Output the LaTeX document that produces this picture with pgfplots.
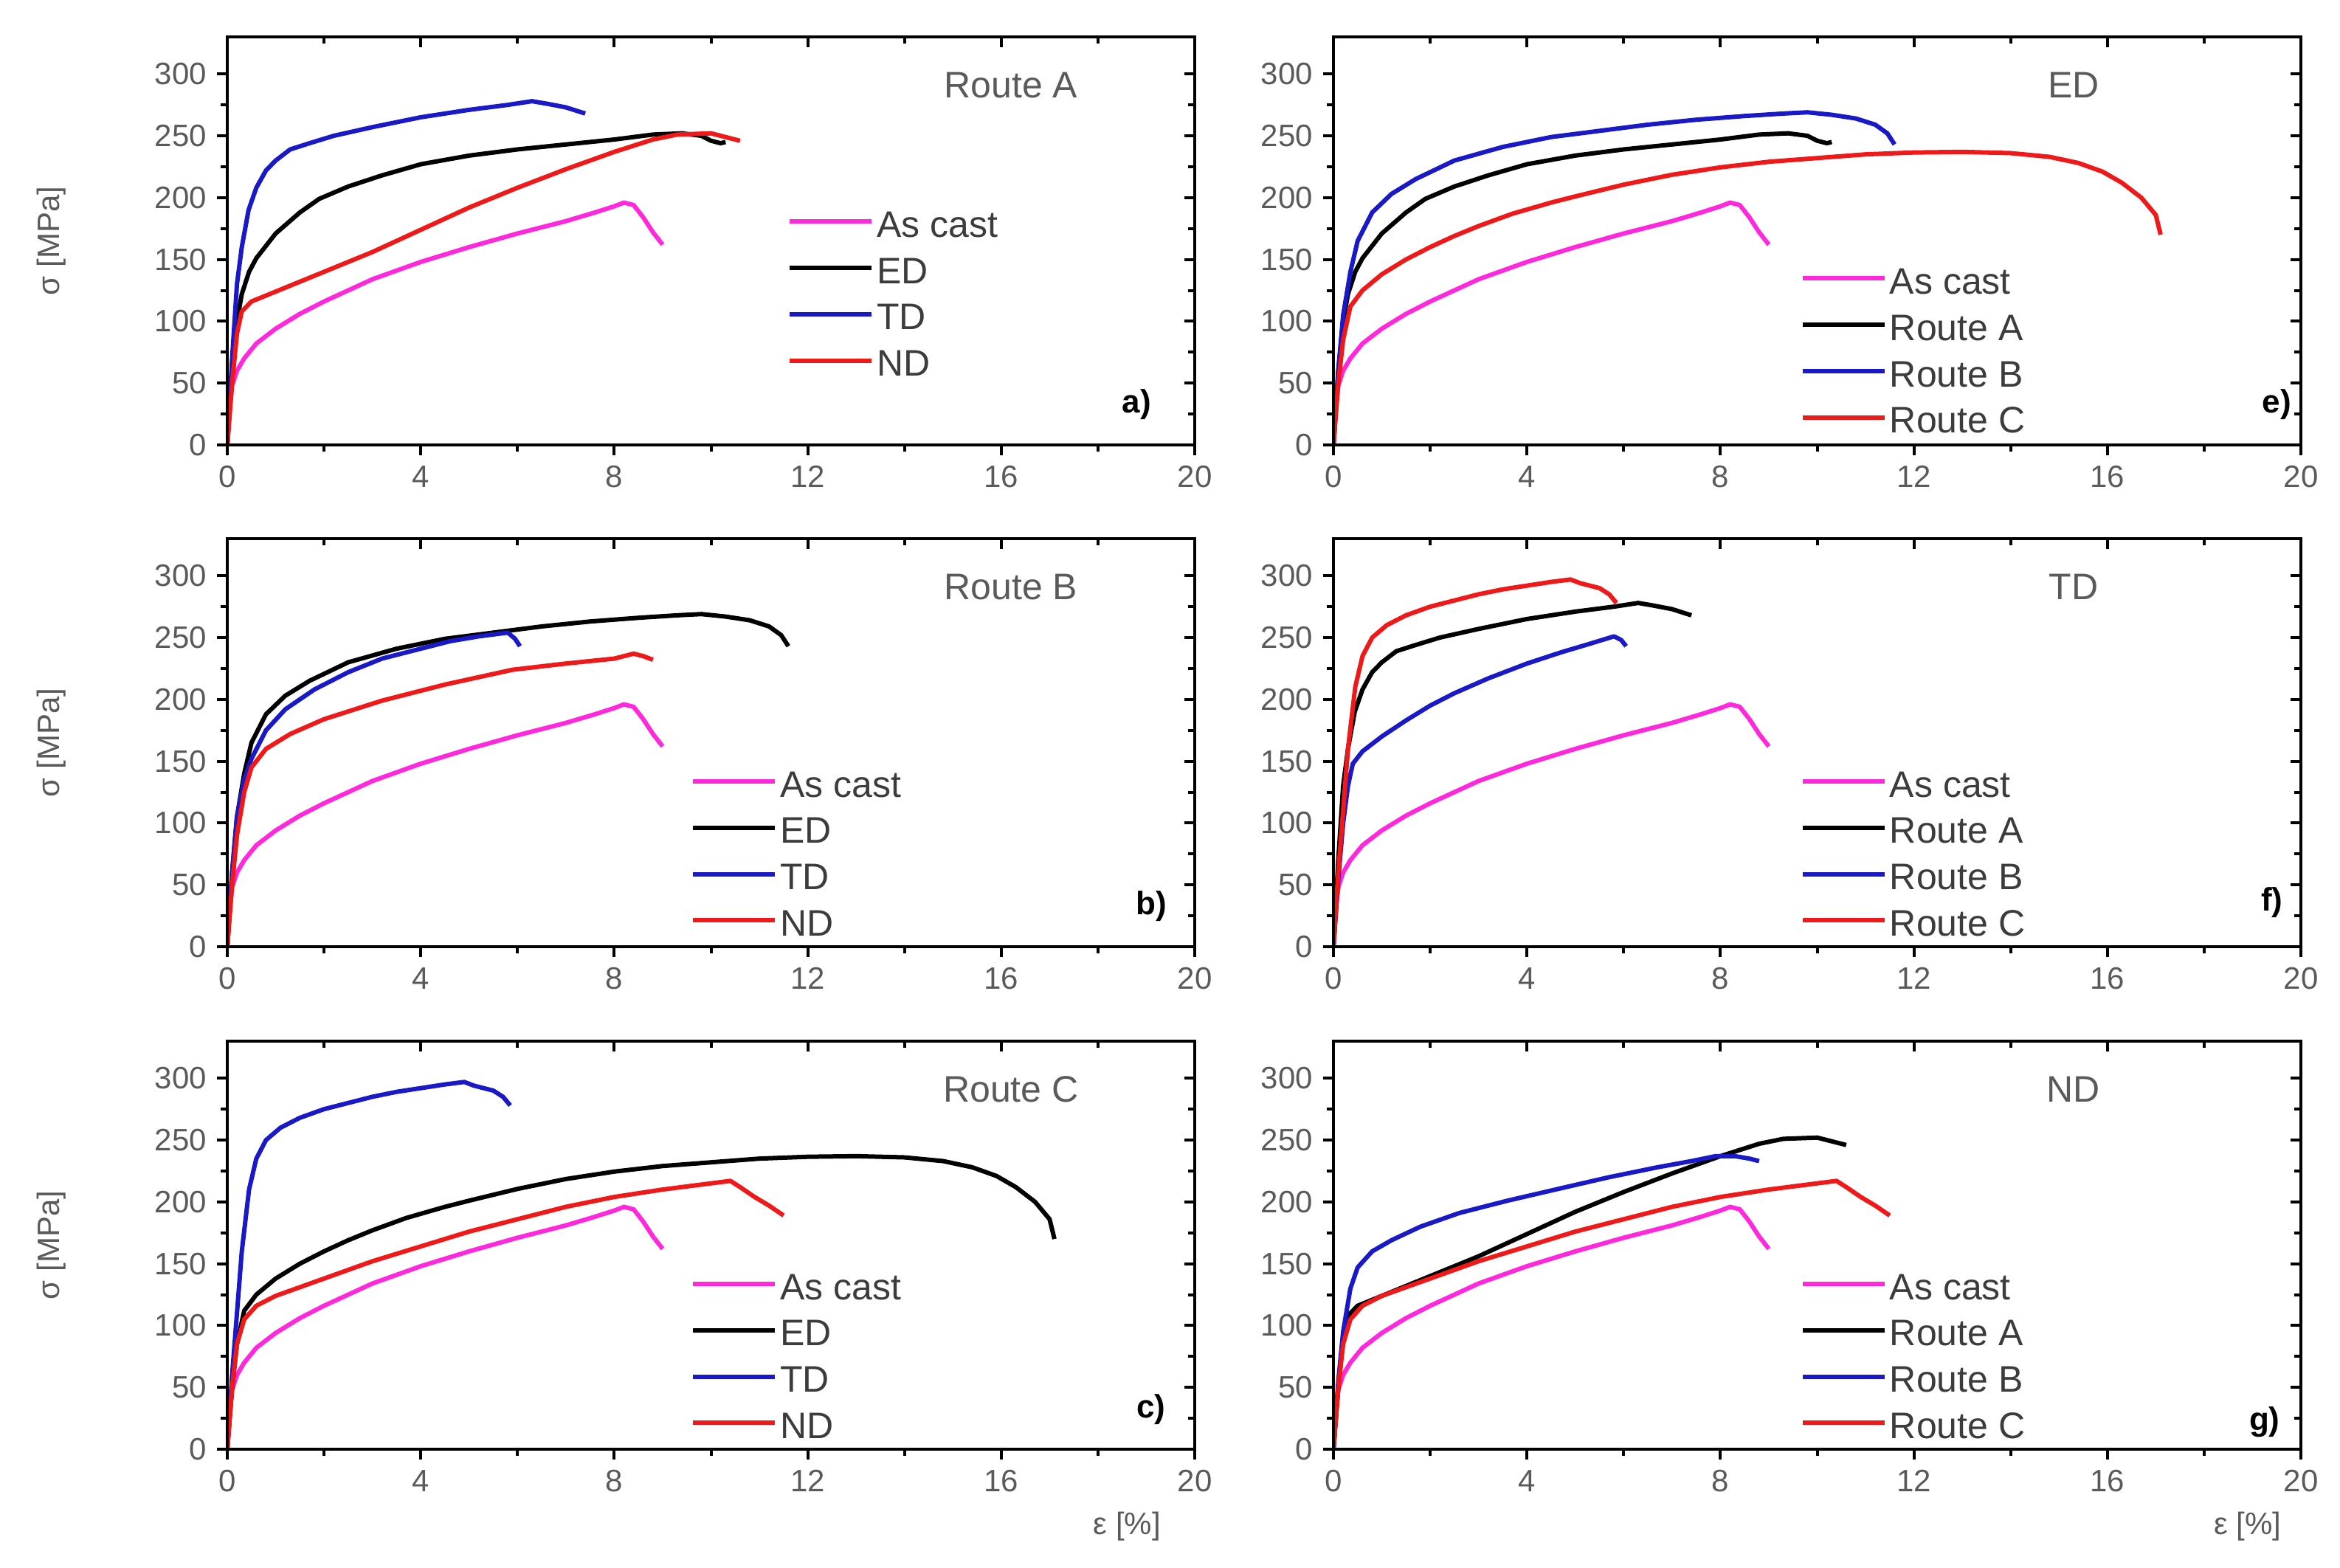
\documentclass[border=0pt]{standalone}
\usepackage{fontspec}
\setmainfont{Liberation Sans}
\usepackage{pgfplots}
\usepackage{pgfplotstable}
\pgfplotsset{compat=1.18}
\definecolor{cMag}{RGB}{255,40,220}
\definecolor{cBlue}{RGB}{25,25,200}
\definecolor{cRed}{RGB}{240,25,25}
\definecolor{cGray}{RGB}{90,90,90}
\definecolor{cLeg}{RGB}{60,60,60}

\pgfplotstableread{
x y
0 0
0.05 30
0.1 48
0.2 60
0.35 70
0.6 82
1 94
1.5 106
2 116
2.5 125
3 134
4 148
5 160
6 171
7 181
7.6 188
8.0 193
8.2 196
8.4 194
8.6 184
8.8 172
9.0 162
}\asCast

\pgfplotstableread{
x y
0 0
0.1 60
0.2 100
0.3 122
0.45 140
0.6 151
0.84 163
1 171
1.5 188
1.9 199
2.5 209
3.2 218
4 227
5 234
6 239
7 243
8 247
8.8 251
9.4 252
9.8 250
10.0 246
10.2 244
10.3 245
}\RAed

\pgfplotstableread{
x y
0 0
0.1 70
0.2 130
0.3 160
0.44 190
0.6 208
0.8 222
1 230
1.3 239
1.7 244
2.2 250
3 257
4 265
5 271
5.8 275
6.3 278
6.6 276
7 273
7.4 268
}\RAtd

\pgfplotstableread{
x y
0 0
0.1 50
0.2 90
0.3 108
0.5 116
1 124
1.5 132
2 140
3 156
4 174
5 192
6 208
7 223
8 237
8.8 247
9.3 251
10.0 252
10.3 249
10.6 246
}\RAnd

\pgfplotstableread{
x y
0 0
0.1 60
0.2 105
0.35 140
0.5 165
0.8 188
1.2 203
1.7 215
2.5 230
3.5 241
4.5 249
5.5 254
6.5 259
7.5 263
8.5 266
9.3 268
9.8 269
10.3 267
10.8 264
11.2 259
11.45 252
11.6 243
}\RBed

\pgfplotstableread{
x y
0 0
0.1 60
0.2 105
0.35 135
0.5 152
0.8 175
1.2 192
1.8 208
2.5 222
3.2 233
4 241
4.6 247
5.2 251
5.8 254
5.95 249
6.05 243
}\RBtdb

\pgfplotstableread{
x y
0 0
0.1 55
0.2 100
0.3 130
0.4 148
0.6 158
1 170
1.5 183
2 195
2.5 205
3.2 217
4 229
4.7 238
5.3 245
5.8 251
5.95 248
6.05 243
}\RBtdf

\pgfplotstableread{
x y
0 0
0.1 50
0.2 90
0.35 125
0.5 145
0.8 160
1.3 172
2 184
3.2 199
4.5 212
5.9 224
7 229
8 233
8.4 237
8.6 235
8.8 232
}\RBndb

\pgfplotstableread{
x y
0 0
0.1 55
0.2 95
0.35 130
0.5 147
0.8 160
1.2 169
1.8 180
2.6 191
3.6 201
4.7 211
5.7 220
6.7 228
7.4 233
7.9 237
8.3 237
8.6 235
8.8 233
}\RBndg

\pgfplotstableread{
x y
0 0
0.1 50
0.2 85
0.35 112
0.6 125
1 138
1.5 150
2 160
2.5 169
3 177
3.7 187
4.5 196
5 201
6 210.5
7 218.5
8 224.5
9 229
10 232
11 235
12 236.5
13 237
14 236
14.8 233
15.4 228
15.9 221
16.3 212
16.7 200
17.0 186
17.1 170
}\RCed

\pgfplotstableread{
x y
0 0
0.1 60
0.2 110
0.3 160
0.45 210
0.6 235
0.8 250
1.1 260
1.5 268
2 275
2.5 280
3 285
3.5 289
4 292
4.5 295
4.9 297
5.1 294
5.3 292
5.5 290
5.7 285
5.85 278
}\RCtd

\pgfplotstableread{
x y
0 0
0.1 50
0.2 85
0.35 105
0.6 116
1 124
2 138
3 152
4 164
5 176
6 186
7 196
8 204
9 210
10 215
10.4 217
10.6 212
10.9 204
11.2 197
11.5 189
}\RCnd

\tikzset{
  ttl/.style={font=\fontsize{12.5}{14}\selectfont, text=cGray},
  lett/.style={font=\fontsize{11}{13}\selectfont\bfseries},
}
\pgfplotsset{
  base/.style={
    width=327.75pt, height=138.25pt, scale only axis,
    xmin=0, xmax=20, ymin=0, ymax=330,
    xtick={0,4,...,20}, ytick={0,50,...,300},
    minor x tick num=1, minor y tick num=1,
    major tick length=3.5pt, minor tick length=2.3pt,
    axis line style={line width=1.2pt},
    every tick/.style={black, line width=1pt},
  },
  panel/.style={
    base,
    tick align=outside, xtick pos=bottom, ytick pos=left,
    ticklabel style={font=\fontsize{10.5}{12}\selectfont, text=cGray},
    /pgf/number format/assume math mode=true,
    label style={font=\fontsize{10.5}{12}\selectfont, text=cGray},
    legend cell align=left,
    legend style={draw=none, fill=none, anchor=north west,
      font=\fontsize{12.5}{14}\selectfont, text=cLeg,
      inner sep=0pt, row sep=4.2pt, column sep=1pt,
      nodes={inner sep=0pt, text height=9pt, text depth=2.5pt}},
    legend image code/.code={\draw[##1] (0pt,2.05pt) -- (27.8pt,2.05pt);},
    every axis plot/.append style={line width=1.5pt, line join=round},
  },
  mirror/.style={
    base,
    tick align=inside, xtick pos=top, ytick pos=right,
    xticklabels={}, yticklabels={},
  },
}

\begin{document}
\begin{tikzpicture}
\useasboundingbox (0,0) rectangle (792.75pt,531pt);

% ---------- a) ----------
\begin{axis}[panel, at={(77pt,518.5pt)}, anchor=north west,
  ylabel={σ [MPa]}, ylabel style={at={(axis description cs:-0.182,0.5)}, anchor=center},
  legend style={at={(axis cs:11.57,190)}}]
\addplot[cMag] table {\asCast}; \addlegendentry{As cast}
\addplot[black] table {\RAed}; \addlegendentry{ED}
\addplot[cBlue] table {\RAtd}; \addlegendentry{TD}
\addplot[cRed] table {\RAnd}; \addlegendentry{ND}
\node[ttl] at (axis cs:16.2,291) {Route A};
\node[lett] at (axis cs:18.8,33) {a)};
\end{axis}
\begin{axis}[mirror, at={(77pt,518.5pt)}, anchor=north west]
\end{axis}

% ---------- b) ----------
\begin{axis}[panel, at={(77pt,348.5pt)}, anchor=north west,
  ylabel={σ [MPa]}, ylabel style={at={(axis description cs:-0.182,0.5)}, anchor=center},
  legend style={at={(axis cs:9.57,143)}}]
\addplot[cMag] table {\asCast}; \addlegendentry{As cast}
\addplot[black] table {\RBed}; \addlegendentry{ED}
\addplot[cBlue] table {\RBtdb}; \addlegendentry{TD}
\addplot[cRed] table {\RBndb}; \addlegendentry{ND}
\node[ttl] at (axis cs:16.2,291) {Route B};
\node[lett] at (axis cs:19.1,33) {b)};
\end{axis}
\begin{axis}[mirror, at={(77pt,348.5pt)}, anchor=north west]
\end{axis}

% ---------- c) ----------
\begin{axis}[panel, at={(77pt,178.25pt)}, anchor=north west,
  ylabel={σ [MPa]}, ylabel style={at={(axis description cs:-0.182,0.5)}, anchor=center},
  xlabel={ε [\%]}, xlabel style={at={(axis description cs:0.93,-0.19)}, anchor=center},
  legend style={at={(axis cs:9.57,143)}}]
\addplot[cMag] table {\asCast}; \addlegendentry{As cast}
\addplot[black] table {\RCed}; \addlegendentry{ED}
\addplot[cBlue] table {\RCtd}; \addlegendentry{TD}
\addplot[cRed] table {\RCnd}; \addlegendentry{ND}
\node[ttl] at (axis cs:16.2,291) {Route C};
\node[lett] at (axis cs:19.1,32) {c)};
\end{axis}
\begin{axis}[mirror, at={(77pt,178.25pt)}, anchor=north west]
\end{axis}

% ---------- e) ----------
\begin{axis}[panel, at={(451.75pt,518.5pt)}, anchor=north west,
  legend style={at={(axis cs:9.64,144)}}]
\addplot[cMag] table {\asCast}; \addlegendentry{As cast}
\addplot[black] table {\RAed}; \addlegendentry{Route A}
\addplot[cBlue] table {\RBed}; \addlegendentry{Route B}
\addplot[cRed] table {\RCed}; \addlegendentry{Route C}
\node[ttl] at (axis cs:15.3,291) {ED};
\node[lett] at (axis cs:19.5,33) {e)};
\end{axis}
\begin{axis}[mirror, at={(451.75pt,518.5pt)}, anchor=north west]
\end{axis}

% ---------- f) ----------
\begin{axis}[panel, at={(451.75pt,348.5pt)}, anchor=north west,
  legend style={at={(axis cs:9.64,143)}}]
\addplot[cMag] table {\asCast}; \addlegendentry{As cast}
\addplot[black] table {\RAtd}; \addlegendentry{Route A}
\addplot[cBlue] table {\RBtdf}; \addlegendentry{Route B}
\addplot[cRed] table {\RCtd}; \addlegendentry{Route C}
\node[ttl] at (axis cs:15.3,291) {TD};
\node[lett] at (axis cs:19.4,36) {f)};
\end{axis}
\begin{axis}[mirror, at={(451.75pt,348.5pt)}, anchor=north west]
\end{axis}

% ---------- g) ----------
\begin{axis}[panel, at={(451.75pt,178.25pt)}, anchor=north west,
  xlabel={ε [\%]}, xlabel style={at={(axis description cs:0.945,-0.19)}, anchor=center},
  legend style={at={(axis cs:9.64,143)}}]
\addplot[cMag] table {\asCast}; \addlegendentry{As cast}
\addplot[black] table {\RAnd}; \addlegendentry{Route A}
\addplot[cBlue] table {\RBndg}; \addlegendentry{Route B}
\addplot[cRed] table {\RCnd}; \addlegendentry{Route C}
\node[ttl] at (axis cs:15.3,291) {ND};
\node[lett] at (axis cs:19.25,22) {g)};
\end{axis}
\begin{axis}[mirror, at={(451.75pt,178.25pt)}, anchor=north west]
\end{axis}

\end{tikzpicture}
\end{document}
